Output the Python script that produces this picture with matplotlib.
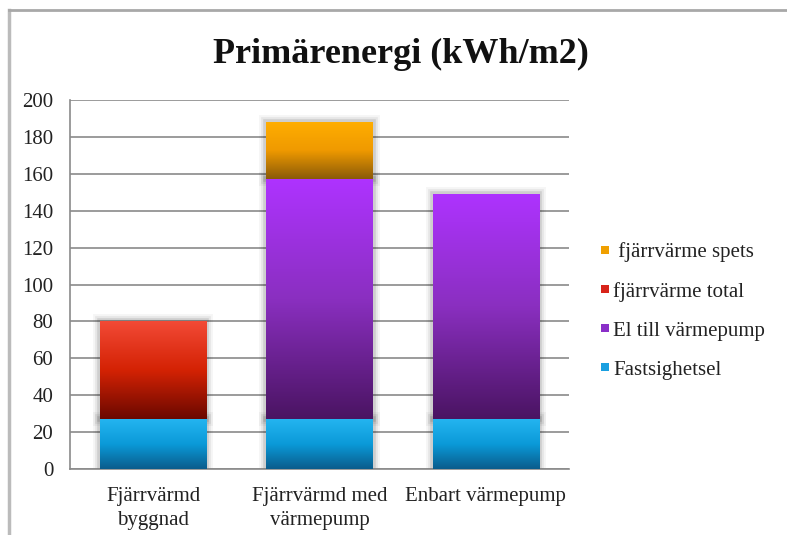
import numpy as np
import matplotlib
matplotlib.use("Agg")
import matplotlib.pyplot as plt
from matplotlib.colors import LinearSegmentedColormap
from matplotlib.lines import Line2D
import matplotlib.patheffects as pe

categories = ["Fjärrvärmd\nbyggnad", "Fjärrvärmd med\nvärmepump", "Enbart värmepump"]
series_names = ["Fastsighetsel", "El till värmepump", "fjärrvärme total", " fjärrvärme spets"]
fastighetsel = [27, 27, 27]
el_varmepump = [0, 130, 122]
fjv_total = [53, 0, 0]
fjv_spets = [0, 31, 0]
yticks = [0, 20, 40, 60, 80, 100, 120, 140, 160, 180, 200]

series = [fastighetsel, el_varmepump, fjv_total, fjv_spets]
# (top colour, middle colour, bottom colour)
grads = [
    ("#24b4f0", "#0b9ad8", "#0a5c8c"),
    ("#ae33ff", "#8a2fc0", "#4a1462"),
    ("#f24a36", "#d42204", "#6a0800"),
    ("#ffae00", "#f09a00", "#8a5a08"),
]
legend_colors = ["#1a9fe0", "#8a2fc8", "#d8241a", "#f0a000"]

plt.rcParams['font.family'] = ['Liberation Serif', 'DejaVu Serif']

fig = plt.figure(figsize=(7.87, 5.35), dpi=100)
ax = fig.add_axes([70/787, 66/535, 499/787, 369/535])

x = np.arange(len(categories))
bottom = np.zeros(len(categories))
width = 0.64
shadow = [pe.Stroke(linewidth=10, foreground='k', alpha=0.04),
          pe.Stroke(linewidth=7, foreground='k', alpha=0.06),
          pe.Stroke(linewidth=4, foreground='k', alpha=0.10),
          pe.Normal()]
for vals, (ct, cm, cb) in zip(series, grads):
    vals = np.array(vals, dtype=float)
    bars = ax.bar(x, vals, width, bottom=bottom, color=cm, linewidth=0,
                  zorder=2, path_effects=shadow)
    cmap = LinearSegmentedColormap.from_list("g", [cb, cm, ct])
    grad = np.linspace(0, 1, 256).reshape(-1, 1)
    for b, v in zip(bars, vals):
        if v <= 0:
            b.set_visible(False)
            continue
        x0, y0 = b.get_x(), b.get_y()
        im = ax.imshow(grad, cmap=cmap, origin='lower', aspect='auto',
                       extent=[x0, x0 + b.get_width(), y0, y0 + b.get_height()],
                       zorder=3)
        im.set_clip_path(b)
    bottom += vals

ax.set_xlim(-0.5, len(categories) - 0.5)
ax.set_ylim(0, 200)
ax.set_yticks(yticks)
ax.set_yticklabels([str(t) for t in yticks], fontsize=15, color="#222222")
ax.set_xticks(x)
ax.set_xticklabels(categories, fontsize=15, color="#222222", linespacing=1.35)
ax.tick_params(axis='y', length=0, pad=12)
ax.tick_params(axis='x', length=0, pad=13)
ax.yaxis.grid(True, color="#8a8a8a", linewidth=1.2, zorder=0)
ax.set_axisbelow(True)
for s in ['top', 'right']:
    ax.spines[s].set_visible(False)
for s in ['left', 'bottom']:
    ax.spines[s].set_color("#8a8a8a")
    ax.spines[s].set_linewidth(1.2)

fig.text(401/787, 1 - 54/535, "Primärenergi (kWh/m2)", ha='center', va='center',
         fontsize=26, fontweight='bold', color="#111111")

handles = [Line2D([], [], marker='s', linestyle='none', markersize=6,
                  markerfacecolor=c, markeredgewidth=0) for c in legend_colors]
order = [3, 2, 1, 0]
leg = fig.legend([handles[i] for i in order], [series_names[i] for i in order],
                 loc='center left', bbox_to_anchor=(590/787, 1 - 311/535),
                 frameon=False, fontsize=15, handlelength=0.4, handletextpad=0.2,
                 labelspacing=0.93, borderpad=0)
for t in leg.get_texts():
    t.set_color("#222222")

# outer frame lines (left and top)
fig.add_artist(Line2D([9/787, 9/787], [0, 1 - 10/535], transform=fig.transFigure,
                      color="#bbbbbb", linewidth=2.5))
fig.add_artist(Line2D([9/787, 1], [1 - 10/535, 1 - 10/535], transform=fig.transFigure,
                      color="#a8a8a8", linewidth=2))

fig.savefig("out.png", dpi=100, facecolor="white")
